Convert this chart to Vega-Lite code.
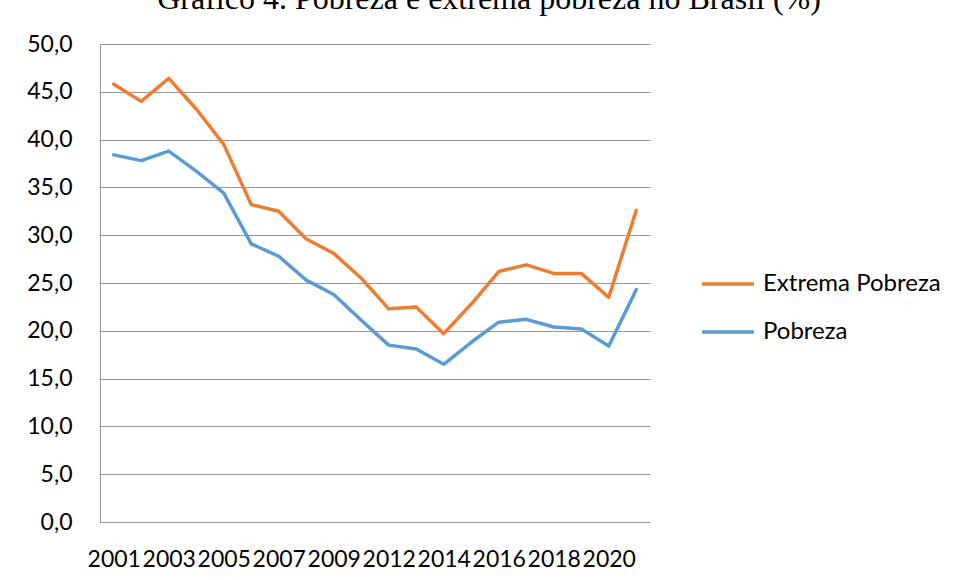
{
  "$schema": "https://vega.github.io/schema/vega-lite/v6.json",
  "width": 550,
  "height": 478,
  "autosize": {"type": "none"},
  "padding": {"left": 100, "top": 44, "right": 305, "bottom": 58},
  "background": "white",
  "title": {
    "text": "Gráfico 4. Pobreza e extrema pobreza no Brasil (%)",
    "font": "Liberation Serif",
    "fontSize": 32,
    "fontWeight": "normal",
    "color": "#000000",
    "anchor": "middle",
    "frame": "group",
    "baseline": "alphabetic",
    "offset": 21,
    "dx": 114,
    "dy": 29
  },
  "config": {
    "view": {"stroke": null},
    "font": "Lato"
  },
  "data": {
    "values": [
      {"ano": "2001", "serie": "Extrema Pobreza", "valor": 45.8},
      {"ano": "2002", "serie": "Extrema Pobreza", "valor": 44.0},
      {"ano": "2003", "serie": "Extrema Pobreza", "valor": 46.4},
      {"ano": "2004", "serie": "Extrema Pobreza", "valor": 43.2},
      {"ano": "2005", "serie": "Extrema Pobreza", "valor": 39.5},
      {"ano": "2006", "serie": "Extrema Pobreza", "valor": 33.2},
      {"ano": "2007", "serie": "Extrema Pobreza", "valor": 32.5},
      {"ano": "2008", "serie": "Extrema Pobreza", "valor": 29.6},
      {"ano": "2009", "serie": "Extrema Pobreza", "valor": 28.1},
      {"ano": "2011", "serie": "Extrema Pobreza", "valor": 25.5},
      {"ano": "2012", "serie": "Extrema Pobreza", "valor": 22.3},
      {"ano": "2013", "serie": "Extrema Pobreza", "valor": 22.5},
      {"ano": "2014", "serie": "Extrema Pobreza", "valor": 19.7},
      {"ano": "2015", "serie": "Extrema Pobreza", "valor": 22.8},
      {"ano": "2016", "serie": "Extrema Pobreza", "valor": 26.2},
      {"ano": "2017", "serie": "Extrema Pobreza", "valor": 26.9},
      {"ano": "2018", "serie": "Extrema Pobreza", "valor": 26.0},
      {"ano": "2019", "serie": "Extrema Pobreza", "valor": 26.0},
      {"ano": "2020", "serie": "Extrema Pobreza", "valor": 23.5},
      {"ano": "2021", "serie": "Extrema Pobreza", "valor": 32.6},
      {"ano": "2001", "serie": "Pobreza", "valor": 38.4},
      {"ano": "2002", "serie": "Pobreza", "valor": 37.8},
      {"ano": "2003", "serie": "Pobreza", "valor": 38.8},
      {"ano": "2004", "serie": "Pobreza", "valor": 36.7},
      {"ano": "2005", "serie": "Pobreza", "valor": 34.4},
      {"ano": "2006", "serie": "Pobreza", "valor": 29.1},
      {"ano": "2007", "serie": "Pobreza", "valor": 27.8},
      {"ano": "2008", "serie": "Pobreza", "valor": 25.3},
      {"ano": "2009", "serie": "Pobreza", "valor": 23.8},
      {"ano": "2011", "serie": "Pobreza", "valor": 21.1},
      {"ano": "2012", "serie": "Pobreza", "valor": 18.5},
      {"ano": "2013", "serie": "Pobreza", "valor": 18.1},
      {"ano": "2014", "serie": "Pobreza", "valor": 16.5},
      {"ano": "2015", "serie": "Pobreza", "valor": 18.8},
      {"ano": "2016", "serie": "Pobreza", "valor": 20.9},
      {"ano": "2017", "serie": "Pobreza", "valor": 21.2},
      {"ano": "2018", "serie": "Pobreza", "valor": 20.4},
      {"ano": "2019", "serie": "Pobreza", "valor": 20.2},
      {"ano": "2020", "serie": "Pobreza", "valor": 18.4},
      {"ano": "2021", "serie": "Pobreza", "valor": 24.3}
    ]
  },
  "mark": {"type": "line", "strokeWidth": 3.5, "strokeJoin": "round", "strokeCap": "round"},
  "encoding": {
    "x": {
      "field": "ano",
      "type": "ordinal",
      "scale": {"type": "point", "padding": 0.5},
      "axis": {
        "title": null,
        "values": ["2001", "2003", "2005", "2007", "2009", "2012", "2014", "2016", "2018", "2020"],
        "labelAngle": 0,
        "ticks": false,
        "domain": true,
        "domainColor": "#969696",
        "domainWidth": 1,
        "labelFont": "Lato",
        "labelFontSize": 23,
        "labelColor": "#000000",
        "labelPadding": 26,
        "labelOverlap": false,
        "labelBaseline": "top"
      }
    },
    "y": {
      "field": "valor",
      "type": "quantitative",
      "scale": {"domain": [0, 50], "nice": false, "zero": true},
      "axis": {
        "title": null,
        "values": [0, 5, 10, 15, 20, 25, 30, 35, 40, 45, 50],
        "labelExpr": "replace(format(datum.value, '.1f'), '.', ',')",
        "ticks": false,
        "domain": true,
        "domainColor": "#969696",
        "domainWidth": 1,
        "grid": true,
        "gridColor": "#969696",
        "gridWidth": 1,
        "labelFont": "Lato",
        "labelFontSize": 23,
        "labelColor": "#000000",
        "labelPadding": 28
      }
    },
    "color": {
      "field": "serie",
      "type": "nominal",
      "scale": {"domain": ["Extrema Pobreza", "Pobreza"], "range": ["#ED7D31", "#5B9BD5"]},
      "legend": {
        "title": null,
        "orient": "none",
        "legendX": 600,
        "legendY": 212,
        "symbolType": "stroke",
        "symbolSize": 2704,
        "symbolStrokeWidth": 3.5,
        "labelFont": "Lato",
        "labelFontSize": 24,
        "labelColor": "#000000",
        "labelOffset": 7,
        "rowPadding": 8,
        "labelLimit": 400
      }
    }
  }
}
